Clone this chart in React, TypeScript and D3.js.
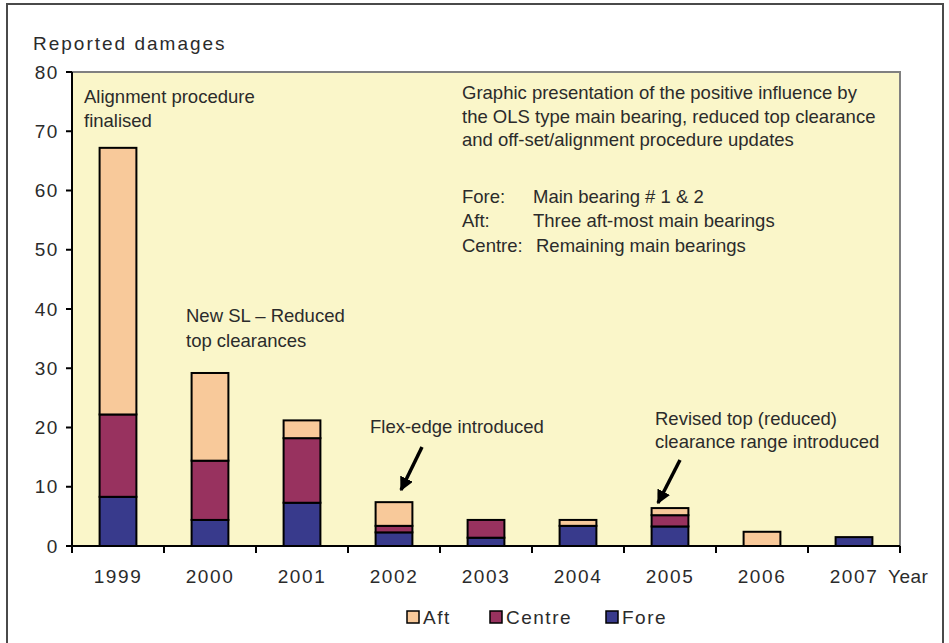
import React from 'react';
import * as d3 from 'd3';

// values
const years = ['1999', '2000', '2001', '2002', '2003', '2004', '2005', '2006', '2007'];
const fore = [8.3, 4.4, 7.3, 2.3, 1.4, 3.4, 3.3, 0, 1.5];
const centre = [13.9, 10.0, 10.9, 1.1, 3.0, 0, 1.9, 0, 0];
const aft = [45.0, 14.8, 3.0, 4.0, 0, 1.0, 1.2, 2.4, 0];
const yTicks = [0, 10, 20, 30, 40, 50, 60, 70, 80];

const seriesNames = ['Fore', 'Centre', 'Aft'];
const colors: Record<string, string> = { Fore: '#383a8c', Centre: '#98325f', Aft: '#f8c99a' };
const legendOrder = ['Aft', 'Centre', 'Fore'];

const W = 949;
const H = 643;
const margin = { top: 72, right: 49, bottom: 97, left: 72 };
const font = '"Liberation Sans", Arial, sans-serif';
const textColor = '#2b2b2b';

export default function App() {
  const rows = years.map((y, i) => ({ year: y, Fore: fore[i], Centre: centre[i], Aft: aft[i] }));
  const stack = d3.stack<any>().keys(seriesNames)(rows);

  const x = d3.scaleBand().domain(years).range([margin.left, W - margin.right]).paddingInner(0).paddingOuter(0);
  const y = d3.scaleLinear().domain([0, 80]).range([H - margin.bottom, margin.top]);
  const barW = x.bandwidth() * 0.4;
  const x0 = margin.left;
  const x1 = W - margin.right;
  const y0 = y(0);

  const ann = { fontFamily: font, fontSize: 18.5, fill: textColor };
  const tick = { fontFamily: font, fontSize: 19, fill: textColor, letterSpacing: 1.6 };

  return (
    <svg width={W} height={H} style={{ position: 'absolute', left: 0, top: 0 }}>
      <defs>
        <marker id="ah" viewBox="0 0 10 10" refX="9" refY="5" markerWidth="4" markerHeight="4" orient="auto">
          <path d="M0,0 L10,5 L0,10 z" fill="#000" />
        </marker>
      </defs>
      <rect x={0} y={0} width={W} height={H} fill="#fff" />
      <rect x={7} y={4} width={936} height={660} fill="none" stroke="#4a4a4a" strokeWidth={2} />

      {/* plot area */}
      <rect x={x0} y={margin.top} width={x1 - x0} height={y0 - margin.top} fill="#faf6c9" stroke="#808080" strokeWidth={2} />

      {/* bars */}
      {stack.map(s => (
        <g key={s.key}>
          {s.map((d, i) => {
            if (d[1] - d[0] <= 0 && s.key !== 'Fore') return null;
            return (
              <rect key={i}
                x={(x(years[i]) as number) + (x.bandwidth() - barW) / 2}
                y={y(d[1])}
                width={barW}
                height={Math.max(0, y(d[0]) - y(d[1]))}
                fill={colors[s.key]} stroke="#000" strokeWidth={2} />
            );
          })}
        </g>
      ))}

      {/* y axis */}
      <line x1={x0} x2={x0} y1={margin.top} y2={y0} stroke="#000" strokeWidth={2} />
      {yTicks.map(t => (
        <g key={t}>
          <line x1={x0 - 6} x2={x0} y1={y(t)} y2={y(t)} stroke="#000" strokeWidth={2} />
          <text x={x0 - 13} y={y(t)} dy="0.35em" textAnchor="end" {...tick}>{t}</text>
        </g>
      ))}

      {/* x axis */}
      <line x1={x0} x2={x1} y1={y0} y2={y0} stroke="#000" strokeWidth={2} />
      {[...years.map(v => x(v) as number), x1].map((p, i) => (
        <line key={i} x1={p} x2={p} y1={y0} y2={y0 + 7} stroke="#000" strokeWidth={2} />
      ))}
      {years.map(v => (
        <text key={v} x={(x(v) as number) + x.bandwidth() / 2} y={583} textAnchor="middle" {...tick}>{v}</text>
      ))}
      <text x={888} y={583} {...tick} letterSpacing={0.5}>Year</text>
      <text x={33} y={50} {...tick} letterSpacing={2}>Reported damages</text>

      {/* legend */}
      {legendOrder.map((k, i) => {
        const lx = [407, 490, 606][i];
        return (
          <g key={k}>
            <rect x={lx} y={611} width={12} height={12} fill={colors[k]} stroke="#000" strokeWidth={1.5} />
            <text x={lx + 16} y={617} dy="0.35em" {...tick} letterSpacing={1.5}>{k}</text>
          </g>
        );
      })}

      {/* annotations */}
      <text {...ann}>
        <tspan x={84} y={103}>Alignment procedure</tspan>
        <tspan x={84} y={127}>finalised</tspan>
      </text>
      <text {...ann}>
        <tspan x={186} y={322}>New SL – Reduced</tspan>
        <tspan x={186} y={347}>top clearances</tspan>
      </text>
      <text {...ann} x={370} y={433}>Flex-edge introduced</text>
      <text {...ann}>
        <tspan x={655} y={425}>Revised top (reduced)</tspan>
        <tspan x={655} y={448}>clearance range introduced</tspan>
      </text>
      <text {...ann}>
        <tspan x={462} y={99}>Graphic presentation of the positive influence by</tspan>
        <tspan x={462} y={123}>the OLS type main bearing, reduced top clearance</tspan>
        <tspan x={462} y={146}>and off-set/alignment procedure updates</tspan>
      </text>
      <text {...ann}>
        <tspan x={462} y={203}>Fore:</tspan>
        <tspan x={533} y={203}>Main bearing # 1 &amp; 2</tspan>
        <tspan x={462} y={227}>Aft:</tspan>
        <tspan x={533} y={227}>Three aft-most main bearings</tspan>
        <tspan x={462} y={252}>Centre:</tspan>
        <tspan x={536} y={252}>Remaining main bearings</tspan>
      </text>

      {/* arrows */}
      <line x1={422} y1={447} x2={401} y2={490} stroke="#000" strokeWidth={3.5} markerEnd="url(#ah)" />
      <line x1={680} y1={460} x2={658} y2={503} stroke="#000" strokeWidth={3.5} markerEnd="url(#ah)" />
    </svg>
  );
}
